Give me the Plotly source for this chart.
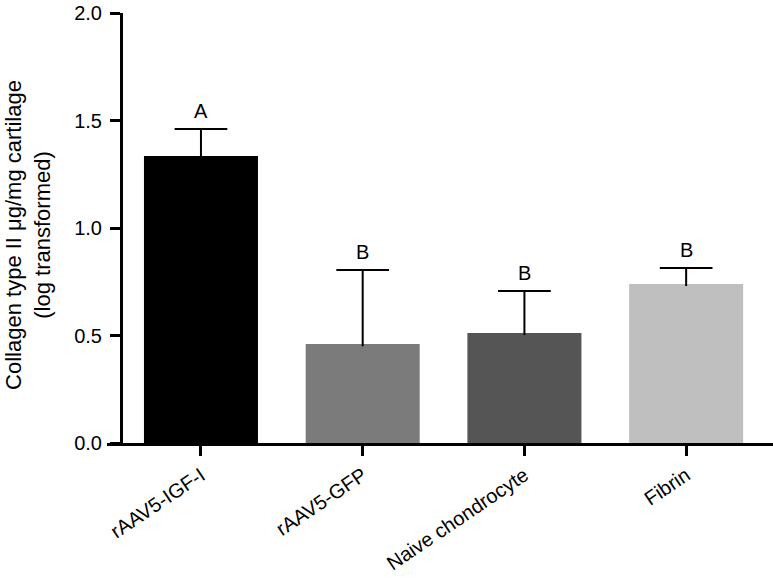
import plotly.graph_objects as go

categories = ["rAAV5-IGF-I", "rAAV5-GFP", "Naive chondrocyte", "Fibrin"]
means = [1.335, 0.460, 0.512, 0.740]
errors_up = [0.125, 0.345, 0.195, 0.074]
letters = ["A", "B", "B", "B"]
bar_colors = ["#000000", "#7b7b7b", "#555555", "#bfbfbf"]
y_ticks = [0.0, 0.5, 1.0, 1.5, 2.0]

FONT = "Liberation Sans, Arial, Helvetica, sans-serif"
x_idx = list(range(len(categories)))
CAP = 0.163  # half-width of error cap, in category units

fig = go.Figure()
fig.add_trace(go.Bar(
    x=x_idx, y=means,
    width=0.705,
    marker=dict(color=bar_colors, line=dict(width=0)),
    showlegend=False,
))

# upper-only error bars (stem from bar top + cap), built from the data
ex, ey = [], []
for xi, m, e in zip(x_idx, means, errors_up):
    ex += [xi, xi, None, xi - CAP, xi + CAP, None]
    ey += [m - 0.01, m + e, None, m + e, m + e, None]
fig.add_trace(go.Scatter(x=ex, y=ey, mode="lines",
                         line=dict(color="#000000", width=2),
                         showlegend=False, hoverinfo="skip"))

for xi, m, e, t in zip(x_idx, means, errors_up, letters):
    fig.add_annotation(x=xi, y=m + e, text=t, showarrow=False,
                       yanchor="bottom", yshift=5,
                       font=dict(family=FONT, size=20, color="#000000"))

fig.add_annotation(xref="paper", yref="paper", x=-0.1186, y=0.484,
                   text="Collagen type II μg/mg cartilage<br>(log transformed)",
                   textangle=-90, showarrow=False, xanchor="center", yanchor="middle",
                   font=dict(family=FONT, size=22, color="#000000"))

fig.update_layout(
    width=773, height=578,
    margin=dict(l=107, r=0, t=13, b=135),
    plot_bgcolor="white", paper_bgcolor="white",
    font=dict(family=FONT, color="#000000"),
    xaxis=dict(range=[-0.581, 3.537], tickmode="array", tickvals=x_idx,
               ticktext=categories, tickangle=-34,
               showline=True, linecolor="#000000", linewidth=3,
               ticks="outside", ticklen=10, tickwidth=3, tickcolor="#000000",
               showgrid=False, zeroline=False,
               tickfont=dict(family=FONT, size=20, color="#000000")),
    yaxis=dict(range=[0, 2], tickmode="array", tickvals=y_ticks,
               ticktext=[f"{v:.1f}" for v in y_ticks],
               anchor="free", position=0.021,
               showline=True, linecolor="#000000", linewidth=3,
               ticks="outside", ticklen=10, tickwidth=3, tickcolor="#000000",
               ticklabelstandoff=4,
               showgrid=False, zeroline=False,
               tickfont=dict(family=FONT, size=20, color="#000000")),
)

fig.write_html("out.html", config={"displayModeBar": False},
               post_script="document.body.style.margin='0';document.body.style.overflow='hidden';")
